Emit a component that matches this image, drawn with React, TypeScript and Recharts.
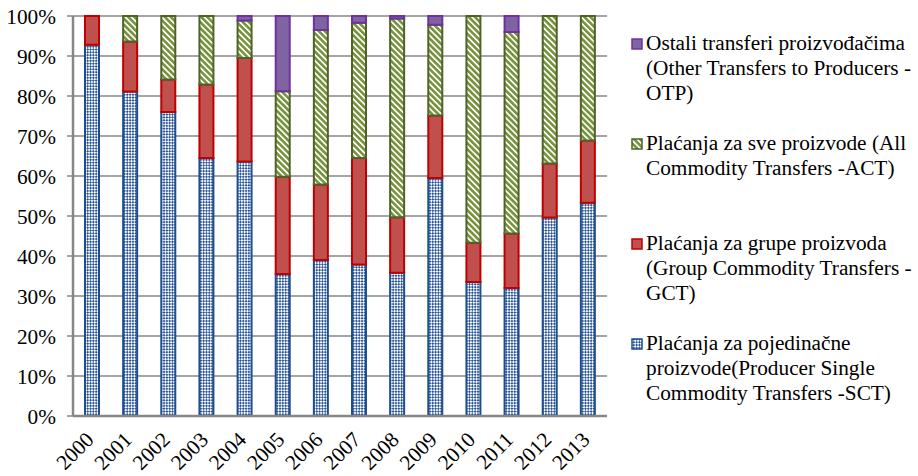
import React from 'react';
import { BarChart, Bar, XAxis, YAxis, CartesianGrid } from 'recharts';

const years = ['2000', '2001', '2002', '2003', '2004', '2005', '2006', '2007', '2008', '2009', '2010', '2011', '2012', '2013'];
const sct = [92.8, 81.1, 76.0, 64.5, 63.6, 35.5, 39.0, 37.9, 35.8, 59.5, 33.5, 32.0, 49.6, 53.3];
const gct = [7.2, 12.5, 8.1, 18.4, 25.9, 24.3, 18.9, 26.6, 13.9, 15.6, 9.8, 13.6, 13.5, 15.6];
const act = [0, 6.4, 15.9, 17.1, 9.4, 21.4, 38.6, 33.8, 49.7, 22.7, 56.7, 50.4, 36.9, 31.1];
const otp = [0, 0, 0, 0, 1.1, 18.8, 3.5, 1.7, 0.6, 2.2, 0, 4.0, 0, 0];
const yTicks = [0, 10, 20, 30, 40, 50, 60, 70, 80, 90, 100];
const boundaryTicks = [0, 1, 2, 3, 4, 5, 6, 7, 8, 9, 10, 11, 12, 13, 14];

const seriesNames = {
  otp: 'Ostali transferi proizvođačima (Other Transfers to Producers - OTP)',
  act: 'Plaćanja za sve proizvode (All Commodity Transfers -ACT)',
  gct: 'Plaćanja za grupe proizvoda (Group Commodity Transfers - GCT)',
  sct: 'Plaćanja za pojedinačne proizvode(Producer Single Commodity Transfers -SCT)',
};

const rows = years.map((year, i) => ({ year, sct: sct[i], gct: gct[i], act: act[i], otp: otp[i] }));

const FONT = '"Liberation Serif", "Times New Roman", serif';
const FS = 21.3;
const GRID = '#878787';

const series = [
  { key: 'sct', fill: 'url(#patSct)', stroke: '#1F4E8C', legendFill: 'url(#legSct)' },
  { key: 'gct', fill: '#C0504D', stroke: '#C00000', legendFill: '#C0504D' },
  { key: 'act', fill: 'url(#patAct)', stroke: '#4F6228', legendFill: 'url(#legAct)' },
  { key: 'otp', fill: '#8064A2', stroke: '#7030A0', legendFill: '#8064A2' },
];

const Patterns = ({ prefix }: { prefix: string }) => (
  <defs>
    <pattern id={prefix + 'Sct'} width="4" height="4" patternUnits="userSpaceOnUse" patternTransform="rotate(45)">
      <rect width="4" height="4" fill="#ffffff" />
      <rect x="0" y="0" width="2" height="2" fill="#2A5699" />
      <rect x="2" y="2" width="2" height="2" fill="#2A5699" />
    </pattern>
    <pattern id={prefix + 'Act'} width="4.3" height="4.3" patternUnits="userSpaceOnUse" patternTransform="rotate(-45)">
      <rect width="4.3" height="4.3" fill="#ffffff" />
      <rect x="0" y="0" width="2.6" height="4.3" fill="#77933C" />
    </pattern>
  </defs>
);

const XTick = (props: any) => {
  const { x, y, payload } = props;
  const tx = x + 3;
  const ty = y + 17;
  return (
    <text
      x={tx}
      y={ty}
      transform={`rotate(-45, ${tx}, ${ty})`}
      textAnchor="end"
      fontFamily={FONT}
      fontSize={FS}
      fill="#000"
    >
      {payload.value}
    </text>
  );
};

const legendOrder = ['otp', 'act', 'gct', 'sct'];

export default function App() {
  return (
    <div style={{ position: 'absolute', left: 0, top: 0, width: 918, height: 476, background: '#fff', overflow: 'hidden' }}>
      <BarChart
        width={918}
        height={476}
        data={rows}
        margin={{ top: 16, right: 311, bottom: 0, left: 0 }}
        barSize={14}
      >
        <Patterns prefix="pat" />
        <CartesianGrid vertical={false} stroke={GRID} strokeWidth={1.5} />
        <XAxis
          xAxisId="t"
          type="number"
          domain={[0, 14]}
          ticks={boundaryTicks}
          allowDataOverflow
          height={0}
          tick={false}
          axisLine={false}
          tickLine={{ stroke: GRID, strokeWidth: 2 }}
          tickSize={6}
        />
        <XAxis
          dataKey="year"
          height={60}
          interval={0}
          tickLine={false}
          axisLine={{ stroke: GRID, strokeWidth: 2.5 }}
          tick={<XTick />}
        />
        <YAxis
          width={73}
          domain={[0, 100]}
          ticks={yTicks}
          interval={0}
          tickFormatter={(v: number) => `${v}%`}
          axisLine={{ stroke: GRID, strokeWidth: 2.5 }}
          tickLine={{ stroke: GRID, strokeWidth: 1.5 }}
          tickSize={6}
          tickMargin={11}
          tick={{ fontFamily: FONT, fontSize: FS, fill: '#000' }}
        />
        {series.map((s) => (
          <Bar
            key={s.key}
            dataKey={s.key}
            stackId="a"
            fill={s.fill}
            stroke={s.stroke}
            strokeWidth={2}
            isAnimationActive={false}
          />
        ))}
      </BarChart>
      <svg width="0" height="0" style={{ position: 'absolute' }}>
        <Patterns prefix="leg" />
      </svg>
      <div style={{ position: 'absolute', left: 631, top: 31, width: 287, fontFamily: FONT, fontSize: FS, lineHeight: '25px', color: '#000' }}>
        {legendOrder.map((k, i) => {
          const s = series.find((x) => x.key === k)!;
          return (
            <div key={k} style={{ position: 'absolute', top: i * 100, left: 0, width: 290 }}>
              <svg width="12" height="12" style={{ position: 'absolute', left: 0, top: 7 }}>
                <rect x="1" y="1" width="10" height="10" fill={s.legendFill} stroke={s.stroke} strokeWidth={1.5} />
              </svg>
              <div style={{ marginLeft: 15, width: 275 }}>{(seriesNames as any)[k]}</div>
            </div>
          );
        })}
      </div>
    </div>
  );
}
